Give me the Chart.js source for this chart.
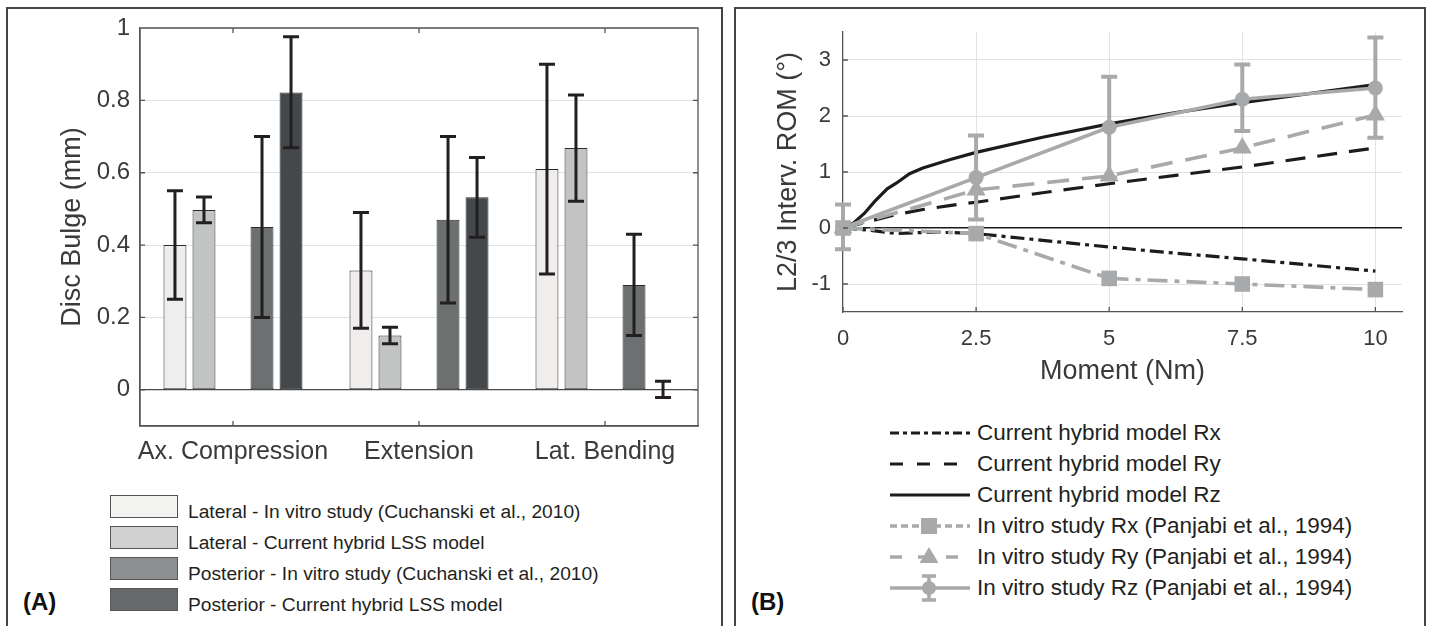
<!DOCTYPE html>
<html>
<head>
<meta charset="utf-8">
<title>Disc bulge and L2/3 ROM</title>
<script src="https://cdn.jsdelivr.net/npm/chart.js@4.4.1/dist/chart.umd.min.js"></script>
<style>
    body { margin: 0; width: 1432px; height: 626px; overflow: hidden; background: #fff;
           font-family: 'Liberation Sans', Arial, sans-serif; position: relative; }
    .frame { position: absolute; top: 7px; height: 660px; box-sizing: border-box;
             border: 2px solid #444; border-bottom: none; }
    canvas { position: absolute; top: 0; }
    .panel-tag { position: absolute; top: 587px; font-weight: bold; font-size: 24px; line-height: 30px; color: #111; }
    .leg-row { position: absolute; white-space: nowrap; color: #231f20; }
    .swatch { position: absolute; left: 110px; width: 68px; height: 23px; box-sizing: border-box; border: 1px solid #555; }
    .leg-line { position: absolute; left: 889px; }
</style>
</head>
<body>
<div class="frame" style="left:6px; width:717px;"></div>
<div class="frame" style="left:734px; width:692px;"></div>
<canvas id="bulgeChart" width="728" height="480" style="left:0;"></canvas>
<canvas id="romChart" width="690" height="410" style="left:735px;"></canvas>
<div id="legendA"></div>
<div id="legendB"></div>
<div class="panel-tag" style="left:23px;">(A)</div>
<div class="panel-tag" style="left:751px;">(B)</div>

<script>
// ---- Panel A: disc bulge (mm) ----
const loadCases = ['Ax. Compression', 'Extension', 'Lat. Bending'];
const bulgeTicks = [0, 0.2, 0.4, 0.6, 0.8, 1];

const latVitro = [0.40, 0.33, 0.61];
const latVitroLow = [0.25, 0.17, 0.32];
const latVitroHigh = [0.55, 0.49, 0.90];

const latModel = [0.497, 0.15, 0.668];
const latModelLow = [0.462, 0.127, 0.521];
const latModelHigh = [0.533, 0.173, 0.815];

const postVitro = [0.45, 0.47, 0.29];
const postVitroLow = [0.20, 0.24, 0.15];
const postVitroHigh = [0.70, 0.70, 0.43];

const postModel = [0.822, 0.532, 0];
const postModelLow = [0.669, 0.422, -0.021];
const postModelHigh = [0.976, 0.642, 0.024];

const bulgeLegend = [
    'Lateral - In vitro study (Cuchanski et al., 2010)',
    'Lateral - Current hybrid LSS model',
    'Posterior - In vitro study (Cuchanski et al., 2010)',
    'Posterior - Current hybrid LSS model'
];

// ---- Panel B: L2/3 intervertebral ROM (deg) ----
const momentTicks = [0, 2.5, 5, 7.5, 10];
const romTicks = [-1, 0, 1, 2, 3];

const rxModelX = [0, 0.5, 1, 1.5, 2, 2.5, 3.75, 5, 6.25, 7.5, 8.75, 10];
const rxModelY = [0, -0.04, -0.1, -0.08, -0.08, -0.1, -0.22, -0.34, -0.45, -0.55, -0.66, -0.77];

const ryModelX = [0, 0.5, 1, 1.5, 2, 2.5, 3.75, 5, 6.25, 7.5, 8.75, 10];
const ryModelY = [0, 0.12, 0.24, 0.33, 0.40, 0.46, 0.63, 0.79, 0.94, 1.09, 1.26, 1.43];

const rzModelX = [0, 0.2, 0.4, 0.6, 0.83, 1, 1.25, 1.5, 2, 2.5, 3.75, 5, 6.25, 7.5, 8.75, 10];
const rzModelY = [0, 0.09, 0.26, 0.48, 0.7, 0.8, 0.97, 1.07, 1.22, 1.35, 1.62, 1.86, 2.06, 2.24, 2.4, 2.56];

const momentVitro = [0, 2.5, 5, 7.5, 10];
const rxVitro = [0, -0.1, -0.9, -1.0, -1.1];
const ryVitro = [0, 0.68, 0.93, 1.43, 2.02];
const rzVitro = [0, 0.9, 1.8, 2.3, 2.5];
const rzVitroLow = [-0.38, 0.15, 0.9, 1.73, 1.61];
const rzVitroHigh = [0.42, 1.65, 2.7, 2.92, 3.4];

const romLegend = [
    'Current hybrid model Rx',
    'Current hybrid model Ry',
    'Current hybrid model Rz',
    'In vitro study Rx (Panjabi et al., 1994)',
    'In vitro study Ry (Panjabi et al., 1994)',
    'In vitro study Rz (Panjabi et al., 1994)'
];

const BLACK = '#1c1c1c';
const GREY = '#a7a9ab';
const AXIS = '#555';

Chart.defaults.font.family = "'Liberation Sans', Arial, sans-serif";
Chart.defaults.color = '#3a3a3a';

// error bars drawn from the dataset's errorLow / errorHigh arrays
const errorBarPlugin = {
    id: 'errorBars',
    afterDatasetsDraw(chart, args, opts) {
        const ctx = chart.ctx;
        const yScale = chart.scales.y;
        chart.data.datasets.forEach((ds, i) => {
            if (!ds.errorLow) return;
            const meta = chart.getDatasetMeta(i);
            meta.data.forEach((el, j) => {
                const lo = ds.errorLow[j];
                const hi = ds.errorHigh[j];
                if (lo == null || hi == null) return;
                const x = el.x;
                const y1 = yScale.getPixelForValue(lo);
                const y2 = yScale.getPixelForValue(hi);
                const half = opts.cap / 2;
                ctx.save();
                ctx.strokeStyle = opts.color;
                ctx.lineWidth = opts.width;
                ctx.lineCap = 'butt';
                ctx.beginPath();
                ctx.moveTo(x, y1); ctx.lineTo(x, y2);
                ctx.moveTo(x - half, y1); ctx.lineTo(x + half, y1);
                ctx.moveTo(x - half, y2); ctx.lineTo(x + half, y2);
                ctx.stroke();
                ctx.restore();
            });
        });
    }
};

// matlab-ish axes: optional box plus small inward tick marks
const axesBoxPlugin = {
    id: 'axesBox',
    afterDatasetsDraw(chart, args, opts) {
        const { ctx, chartArea: a, scales: { x, y } } = chart;
        const len = opts.tickLen || 5;
        ctx.save();
        ctx.strokeStyle = AXIS;
        ctx.lineWidth = 1.3;
        ctx.beginPath();
        if (opts.box) ctx.rect(a.left, a.top, a.right - a.left, a.bottom - a.top);
        x.ticks.forEach((t, i) => {
            const px = x.getPixelForTick(i);
            ctx.moveTo(px, a.bottom); ctx.lineTo(px, a.bottom - len);
            if (opts.box) { ctx.moveTo(px, a.top); ctx.lineTo(px, a.top + len); }
        });
        y.ticks.forEach((t, i) => {
            const py = y.getPixelForTick(i);
            ctx.moveTo(a.left, py); ctx.lineTo(a.left + len, py);
            if (opts.box) { ctx.moveTo(a.right, py); ctx.lineTo(a.right - len, py); }
        });
        ctx.stroke();
        ctx.restore();
    }
};

class SpineFigure {
    constructor() {
        this.charts = {};
        this.createBulgeChart();
        this.createRomChart();
        this.buildBulgeLegend();
        this.buildRomLegend();
    }

    createBulgeChart() {
        const canvas = document.getElementById('bulgeChart');
        const bar = (label, data, color, low, high) => ({
            label, data, backgroundColor: color, borderColor: '#2a2a2a', borderWidth: 1,
            borderSkipped: false, errorLow: low, errorHigh: high
        });

        this.charts.bulge = new Chart(canvas, {
            type: 'bar',
            data: {
                labels: loadCases,
                datasets: [
                    bar(bulgeLegend[0], latVitro, '#efeeec', latVitroLow, latVitroHigh),
                    bar(bulgeLegend[1], latModel, '#c2c4c3', latModelLow, latModelHigh),
                    { label: '', data: loadCases.map(() => null) },   // empty slot between lateral and posterior
                    bar(bulgeLegend[2], postVitro, '#6c7071', postVitroLow, postVitroHigh),
                    bar(bulgeLegend[3], postModel, '#45484b', postModelLow, postModelHigh)
                ]
            },
            options: {
                responsive: false,
                animation: false,
                datasets: { bar: { categoryPercentage: 0.78, barPercentage: 0.79 } },
                layout: { padding: { top: 28, right: 30, left: 0, bottom: 0 } },
                plugins: {
                    legend: { display: false },
                    tooltip: { enabled: false },
                    errorBars: { color: '#231f20', width: 3, cap: 16 },
                    axesBox: { box: true, tickLen: 5 }
                },
                scales: {
                    x: {
                        grid: { display: false, drawTicks: false },
                        border: { color: AXIS, width: 1.3 },
                        ticks: { font: { size: 25 }, padding: 11, color: '#3a3a3a',
                                 maxRotation: 0, minRotation: 0, autoSkip: false },
                        afterFit: s => { s.height = 54; }
                    },
                    y: {
                        min: -0.1, max: 1,
                        afterBuildTicks: s => { s.ticks = bulgeTicks.map(v => ({ value: v })); },
                        grid: {
                            drawTicks: false,
                            color: c => c.tick.value === 0 ? '#4a4a4a' : '#e2e2e2',
                            lineWidth: c => c.tick.value === 0 ? 1.3 : 1
                        },
                        border: { color: AXIS, width: 1.3 },
                        ticks: { font: { size: 24 }, padding: 10, color: '#3a3a3a', callback: v => String(v) },
                        title: { display: true, text: 'Disc Bulge (mm)', font: { size: 27 }, color: '#3a3a3a',
                                 padding: { top: 56, bottom: 0 } },
                        afterFit: s => { s.width = 140; }
                    }
                }
            },
            plugins: [errorBarPlugin, axesBoxPlugin]
        });
    }

    createRomChart() {
        const canvas = document.getElementById('romChart');
        const pts = (xs, ys) => xs.map((x, i) => ({ x, y: ys[i] }));
        const model = (label, xs, ys, dash) => ({
            label, data: pts(xs, ys), borderColor: BLACK, borderWidth: 3.2, borderDash: dash,
            pointRadius: 0, tension: 0, order: 2
        });
        const vitro = (label, ys, dash, style, radius) => ({
            label, data: pts(momentVitro, ys), borderColor: GREY, borderWidth: 3.6, borderDash: dash,
            pointStyle: style, pointRadius: radius, pointBackgroundColor: GREY, pointBorderColor: GREY,
            pointBorderWidth: 0, tension: 0, order: 1, clip: false
        });

        const rzVitroSet = vitro(romLegend[5], rzVitro, [], 'circle', 7.5);
        rzVitroSet.errorLow = rzVitroLow;
        rzVitroSet.errorHigh = rzVitroHigh;

        this.charts.rom = new Chart(canvas, {
            type: 'line',
            data: {
                datasets: [
                    vitro(romLegend[3], rxVitro, [20, 7, 5, 7], 'rect', 11),
                    vitro(romLegend[4], ryVitro, [22, 13], 'triangle', 11),
                    rzVitroSet,
                    model(romLegend[0], rxModelX, rxModelY, [14, 5, 4, 5]),
                    model(romLegend[1], ryModelX, ryModelY, [20, 12]),
                    model(romLegend[2], rzModelX, rzModelY, [])
                ]
            },
            options: {
                responsive: false,
                animation: false,
                layout: { padding: { top: 32, right: 23, left: 0, bottom: 0 } },
                plugins: {
                    legend: { display: false },
                    tooltip: { enabled: false },
                    errorBars: { color: GREY, width: 4, cap: 16 },
                    axesBox: { box: false, tickLen: 5 }
                },
                scales: {
                    x: {
                        type: 'linear', min: 0, max: 10.5,
                        afterBuildTicks: s => { s.ticks = momentTicks.map(v => ({ value: v })); },
                        grid: { drawTicks: false, color: c => c.tick.value === 0 ? 'rgba(0,0,0,0)' : '#e3e3e3' },
                        border: { color: AXIS, width: 1.3 },
                        ticks: { font: { size: 22 }, padding: 14, color: '#3a3a3a', callback: v => String(v),
                                 maxRotation: 0, minRotation: 0, autoSkip: false },
                        title: { display: true, text: 'Moment (Nm)', font: { size: 27 }, color: '#3a3a3a',
                                 padding: { top: 0, bottom: 22 } },
                        afterFit: s => { s.height = 98; }
                    },
                    y: {
                        min: -1.5, max: 3.5,
                        afterBuildTicks: s => { s.ticks = romTicks.map(v => ({ value: v })); },
                        grid: {
                            drawTicks: false,
                            color: c => c.tick.value === 0 ? '#1a1a1a' : '#e3e3e3',
                            lineWidth: c => c.tick.value === 0 ? 1.5 : 1
                        },
                        border: { color: AXIS, width: 1.3 },
                        ticks: { font: { size: 22 }, padding: 12, color: '#3a3a3a', callback: v => String(v) },
                        title: { display: true, text: 'L2/3 Interv. ROM (°)', font: { size: 27 }, color: '#3a3a3a',
                                 padding: { top: 37, bottom: 0 } },
                        afterFit: s => { s.width = 108; }
                    }
                }
            },
            plugins: [errorBarPlugin, axesBoxPlugin]
        });
    }

    buildBulgeLegend() {
        const host = document.getElementById('legendA');
        const swatches = ['#f3f3f2', '#d0d1d0', '#8e8f90', '#68696a'];
        bulgeLegend.forEach((text, i) => {
            const top = 495 + i * 31;
            const sw = document.createElement('div');
            sw.className = 'swatch';
            sw.style.top = top + 'px';
            sw.style.background = swatches[i];
            host.appendChild(sw);

            const row = document.createElement('div');
            row.className = 'leg-row';
            row.style.cssText = `left:188px; top:${top + 5}px; font-size:19.2px; line-height:24px;`;
            row.textContent = text;
            host.appendChild(row);
        });
    }

    buildRomLegend() {
        const host = document.getElementById('legendB');
        const styles = [
            { color: BLACK, width: 3, dash: '9 4 4 4' },
            { color: BLACK, width: 3, dash: '13 14' },
            { color: BLACK, width: 3, dash: '' },
            { color: GREY, width: 3.5, dash: '7 4', marker: 'rect' },
            { color: GREY, width: 3.5, dash: '12 16', marker: 'triangle' },
            { color: GREY, width: 3.5, dash: '', marker: 'circle', err: true }
        ];
        romLegend.forEach((text, i) => {
            const cy = 433 + i * 30.9;
            const s = styles[i];
            let marker = '';
            if (s.marker === 'rect') marker = `<rect x="32" y="7" width="16" height="16" fill="${s.color}"/>`;
            if (s.marker === 'triangle') marker = `<polygon points="40,5 49.5,21 30.5,21" fill="${s.color}"/>`;
            if (s.marker === 'circle') marker = `<circle cx="40" cy="15" r="7" fill="${s.color}"/>`;
            let err = '';
            if (s.err) err = `<path d="M40 3 V27 M33 3 H47 M33 27 H47" stroke="${s.color}" stroke-width="3.5" fill="none"/>`;
            const svg = `<svg class="leg-line" width="82" height="30" style="top:${cy - 15}px">
                <line x1="1" y1="15" x2="81" y2="15" stroke="${s.color}" stroke-width="${s.width}" stroke-dasharray="${s.dash}"/>
                ${err}${marker}</svg>`;
            host.insertAdjacentHTML('beforeend', svg);

            const row = document.createElement('div');
            row.className = 'leg-row';
            row.style.cssText = `left:977px; top:${cy - 13}px; font-size:22.5px; line-height:26px;`;
            row.textContent = text;
            host.appendChild(row);
        });
    }
}

window.spineFigure = new SpineFigure();
</script>
</body>
</html>
